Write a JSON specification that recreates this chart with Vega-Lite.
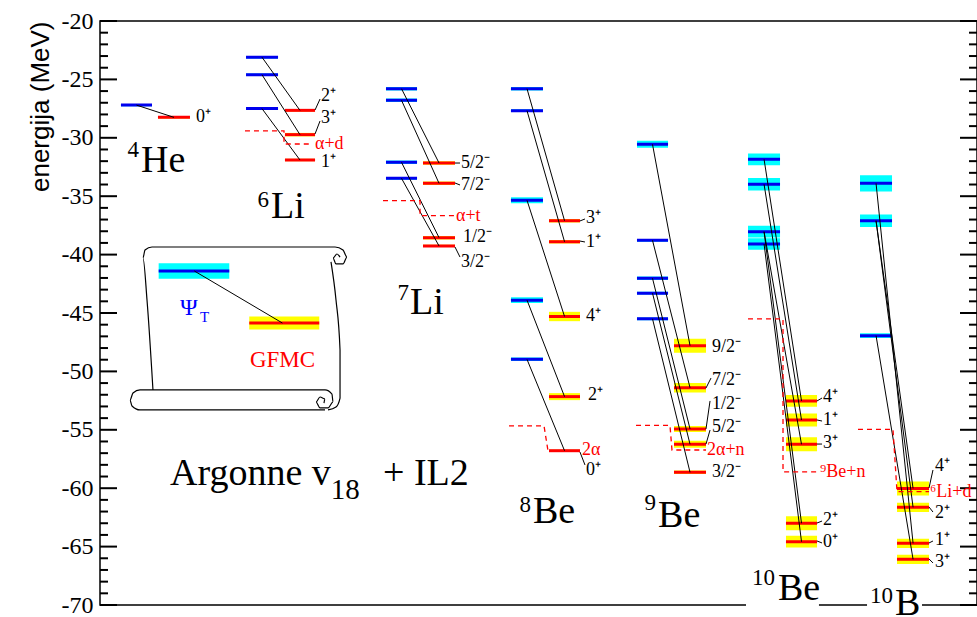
{
  "$schema": "https://vega.github.io/schema/vega-lite/v6.json",
  "width": 877,
  "height": 584,
  "autosize": "none",
  "padding": {"left": 100, "top": 21, "right": 0, "bottom": 12},
  "background": "white",
  "config": {"view": {"stroke": "black", "strokeWidth": 1.5}},
  "datasets": {
    "levels": [
      {"n": "4He", "k": "T", "x1": 2.39, "x2": 5.93, "e": -27.2, "err": 0.1},
      {"n": "4He", "k": "G", "x1": 6.61, "x2": 10.26, "e": -28.25, "err": 0.1},
      {"n": "6Li", "k": "T", "x1": 16.65, "x2": 20.3, "e": -23.1, "err": 0.1},
      {"n": "6Li", "k": "T", "x1": 16.65, "x2": 20.3, "e": -24.6, "err": 0.1},
      {"n": "6Li", "k": "T", "x1": 16.65, "x2": 20.3, "e": -27.5, "err": 0.1},
      {"n": "6Li", "k": "G", "x1": 21.09, "x2": 24.52, "e": -27.65, "err": 0.1},
      {"n": "6Li", "k": "G", "x1": 21.09, "x2": 24.52, "e": -29.73, "err": 0.15},
      {"n": "6Li", "k": "G", "x1": 21.09, "x2": 24.52, "e": -31.9, "err": 0.1},
      {"n": "7Li", "k": "T", "x1": 32.61, "x2": 36.15, "e": -25.8, "err": 0.15},
      {"n": "7Li", "k": "T", "x1": 32.61, "x2": 36.15, "e": -26.79, "err": 0.15},
      {"n": "7Li", "k": "T", "x1": 32.61, "x2": 36.15, "e": -32.1, "err": 0.15},
      {"n": "7Li", "k": "T", "x1": 32.61, "x2": 36.15, "e": -33.47, "err": 0.12},
      {"n": "7Li", "k": "G", "x1": 36.83, "x2": 40.48, "e": -32.16, "err": 0.15},
      {"n": "7Li", "k": "G", "x1": 36.83, "x2": 40.48, "e": -33.9, "err": 0.15},
      {"n": "7Li", "k": "G", "x1": 36.83, "x2": 40.48, "e": -38.55, "err": 0.15},
      {"n": "7Li", "k": "G", "x1": 36.83, "x2": 40.48, "e": -39.26, "err": 0.1},
      {"n": "8Be", "k": "T", "x1": 46.86, "x2": 50.51, "e": -25.8, "err": 0.15},
      {"n": "8Be", "k": "T", "x1": 46.86, "x2": 50.51, "e": -27.68, "err": 0.12},
      {"n": "8Be", "k": "T", "x1": 46.86, "x2": 50.51, "e": -35.35, "err": 0.25},
      {"n": "8Be", "k": "T", "x1": 46.86, "x2": 50.51, "e": -43.9, "err": 0.25},
      {"n": "8Be", "k": "T", "x1": 46.86, "x2": 50.51, "e": -48.97, "err": 0.15},
      {"n": "8Be", "k": "G", "x1": 51.2, "x2": 54.73, "e": -37.1, "err": 0.15},
      {"n": "8Be", "k": "G", "x1": 51.2, "x2": 54.73, "e": -38.9, "err": 0.15},
      {"n": "8Be", "k": "G", "x1": 51.2, "x2": 54.73, "e": -45.3, "err": 0.4},
      {"n": "8Be", "k": "G", "x1": 51.2, "x2": 54.73, "e": -52.16, "err": 0.3},
      {"n": "8Be", "k": "G", "x1": 51.2, "x2": 54.73, "e": -56.79, "err": 0.08},
      {"n": "9Be", "k": "T", "x1": 61.23, "x2": 64.77, "e": -30.56, "err": 0.3},
      {"n": "9Be", "k": "T", "x1": 61.23, "x2": 64.77, "e": -38.78, "err": 0.12},
      {"n": "9Be", "k": "T", "x1": 61.23, "x2": 64.77, "e": -42.03, "err": 0.15},
      {"n": "9Be", "k": "T", "x1": 61.23, "x2": 64.77, "e": -43.3, "err": 0.12},
      {"n": "9Be", "k": "T", "x1": 61.23, "x2": 64.77, "e": -45.5, "err": 0.12},
      {"n": "9Be", "k": "G", "x1": 65.45, "x2": 69.1, "e": -47.8, "err": 0.6},
      {"n": "9Be", "k": "G", "x1": 65.45, "x2": 69.1, "e": -51.4, "err": 0.4},
      {"n": "9Be", "k": "G", "x1": 65.45, "x2": 69.1, "e": -54.93, "err": 0.25},
      {"n": "9Be", "k": "G", "x1": 65.45, "x2": 69.1, "e": -56.24, "err": 0.3},
      {"n": "9Be", "k": "G", "x1": 65.45, "x2": 69.1, "e": -58.64, "err": 0.15},
      {"n": "10Be", "k": "T", "x1": 73.89, "x2": 77.54, "e": -31.84, "err": 0.5},
      {"n": "10Be", "k": "T", "x1": 73.89, "x2": 77.54, "e": -33.98, "err": 0.53},
      {"n": "10Be", "k": "T", "x1": 73.89, "x2": 77.54, "e": -38.04, "err": 0.5},
      {"n": "10Be", "k": "T", "x1": 73.89, "x2": 77.54, "e": -39.09, "err": 0.5},
      {"n": "10Be", "k": "G", "x1": 78.22, "x2": 81.76, "e": -52.53, "err": 0.5},
      {"n": "10Be", "k": "G", "x1": 78.22, "x2": 81.76, "e": -54.16, "err": 0.55},
      {"n": "10Be", "k": "G", "x1": 78.22, "x2": 81.76, "e": -56.24, "err": 0.6},
      {"n": "10Be", "k": "G", "x1": 78.22, "x2": 81.76, "e": -63.0, "err": 0.6},
      {"n": "10Be", "k": "G", "x1": 78.22, "x2": 81.76, "e": -64.58, "err": 0.5},
      {"n": "10B", "k": "T", "x1": 86.66, "x2": 90.31, "e": -33.9, "err": 0.7},
      {"n": "10B", "k": "T", "x1": 86.66, "x2": 90.31, "e": -37.1, "err": 0.53},
      {"n": "10B", "k": "T", "x1": 86.66, "x2": 90.31, "e": -46.94, "err": 0.2},
      {"n": "10B", "k": "G", "x1": 90.88, "x2": 94.53, "e": -60.02, "err": 0.6},
      {"n": "10B", "k": "G", "x1": 90.88, "x2": 94.53, "e": -61.64, "err": 0.4},
      {"n": "10B", "k": "G", "x1": 90.88, "x2": 94.53, "e": -64.72, "err": 0.4},
      {"n": "10B", "k": "G", "x1": 90.88, "x2": 94.53, "e": -66.09, "err": 0.4},
      {"n": "legend", "k": "T", "x1": 6.69, "x2": 14.74, "e": -41.4, "err": 0.67},
      {"n": "legend", "k": "G", "x1": 17.02, "x2": 25.0, "e": -45.86, "err": 0.55}
    ],
    "links": [
      {"x1": 4.16, "e1": -27.2, "x2": 8.44, "e2": -28.25},
      {"x1": 18.47, "e1": -23.1, "x2": 22.8, "e2": -27.65},
      {"x1": 18.47, "e1": -24.6, "x2": 22.8, "e2": -29.73},
      {"x1": 18.47, "e1": -27.5, "x2": 22.8, "e2": -31.9},
      {"x1": 34.38, "e1": -25.8, "x2": 38.66, "e2": -32.16},
      {"x1": 34.38, "e1": -26.79, "x2": 38.66, "e2": -33.9},
      {"x1": 34.38, "e1": -32.1, "x2": 38.66, "e2": -38.55},
      {"x1": 34.38, "e1": -33.47, "x2": 38.66, "e2": -39.26},
      {"x1": 48.69, "e1": -25.8, "x2": 52.97, "e2": -37.1},
      {"x1": 48.69, "e1": -27.68, "x2": 52.97, "e2": -38.9},
      {"x1": 48.69, "e1": -35.35, "x2": 52.97, "e2": -45.3},
      {"x1": 48.69, "e1": -43.9, "x2": 52.97, "e2": -52.16},
      {"x1": 48.69, "e1": -48.97, "x2": 52.97, "e2": -56.79},
      {"x1": 63.0, "e1": -30.56, "x2": 67.28, "e2": -47.8},
      {"x1": 63.0, "e1": -38.78, "x2": 67.28, "e2": -51.4},
      {"x1": 63.0, "e1": -42.03, "x2": 67.28, "e2": -54.93},
      {"x1": 63.0, "e1": -43.3, "x2": 67.28, "e2": -56.24},
      {"x1": 63.0, "e1": -45.5, "x2": 67.28, "e2": -58.64},
      {"x1": 75.72, "e1": -31.84, "x2": 79.99, "e2": -52.53},
      {"x1": 75.72, "e1": -33.98, "x2": 79.99, "e2": -54.16},
      {"x1": 75.72, "e1": -38.04, "x2": 79.99, "e2": -56.24},
      {"x1": 75.72, "e1": -38.04, "x2": 79.99, "e2": -63.0},
      {"x1": 75.72, "e1": -39.09, "x2": 79.99, "e2": -64.58},
      {"x1": 88.49, "e1": -33.9, "x2": 92.71, "e2": -64.72},
      {"x1": 88.49, "e1": -37.1, "x2": 92.71, "e2": -60.02},
      {"x1": 88.49, "e1": -37.1, "x2": 92.71, "e2": -61.64},
      {"x1": 88.49, "e1": -46.94, "x2": 92.71, "e2": -66.09},
      {"x1": 10.75, "e1": -41.4, "x2": 20.8, "e2": -45.86}
    ],
    "leaders": [
      {"x1": 24.52, "e1": -27.62, "x2": 25.09, "e2": -26.68},
      {"x1": 24.52, "e1": -29.67, "x2": 25.09, "e2": -28.56},
      {"x1": 40.48, "e1": -32.16, "x2": 41.05, "e2": -32.16},
      {"x1": 40.48, "e1": -33.87, "x2": 41.05, "e2": -34.04},
      {"x1": 40.48, "e1": -39.35, "x2": 41.05, "e2": -40.21},
      {"x1": 54.73, "e1": -37.12, "x2": 55.3, "e2": -36.95},
      {"x1": 54.73, "e1": -38.84, "x2": 55.3, "e2": -38.92},
      {"x1": 54.73, "e1": -56.9, "x2": 55.3, "e2": -58.01},
      {"x1": 69.1, "e1": -51.42, "x2": 69.67, "e2": -50.57},
      {"x1": 69.1, "e1": -54.93, "x2": 69.56, "e2": -52.53},
      {"x1": 69.1, "e1": -56.22, "x2": 69.56, "e2": -55.02},
      {"x1": 81.76, "e1": -52.53, "x2": 82.33, "e2": -52.28},
      {"x1": 81.76, "e1": -54.16, "x2": 82.33, "e2": -54.25},
      {"x1": 81.76, "e1": -56.22, "x2": 82.33, "e2": -56.22},
      {"x1": 81.76, "e1": -62.98, "x2": 82.33, "e2": -62.81},
      {"x1": 81.76, "e1": -64.52, "x2": 82.33, "e2": -64.69},
      {"x1": 94.53, "e1": -59.98, "x2": 94.98, "e2": -58.44},
      {"x1": 94.53, "e1": -61.61, "x2": 94.98, "e2": -62.04},
      {"x1": 94.53, "e1": -64.69, "x2": 94.98, "e2": -64.52},
      {"x1": 94.53, "e1": -66.06, "x2": 94.98, "e2": -66.4}
    ],
    "thr": [
      {"id": "ad", "o": 1, "x": 16.53, "e": -29.4},
      {"id": "ad", "o": 2, "x": 20.98, "e": -29.4},
      {"id": "ad", "o": 3, "x": 20.98, "e": -30.53},
      {"id": "ad", "o": 4, "x": 24.17, "e": -30.53},
      {"id": "at", "o": 1, "x": 32.27, "e": -35.38},
      {"id": "at", "o": 2, "x": 36.49, "e": -35.38},
      {"id": "at", "o": 3, "x": 36.49, "e": -36.67},
      {"id": "at", "o": 4, "x": 40.48, "e": -36.67},
      {"id": "aa", "o": 1, "x": 46.64, "e": -54.67},
      {"id": "aa", "o": 2, "x": 50.63, "e": -54.67},
      {"id": "aa", "o": 3, "x": 51.08, "e": -56.79},
      {"id": "aan", "o": 1, "x": 61.12, "e": -54.62},
      {"id": "aan", "o": 2, "x": 64.99, "e": -54.62},
      {"id": "aan", "o": 3, "x": 65.22, "e": -56.73},
      {"id": "aan", "o": 4, "x": 69.1, "e": -56.73},
      {"id": "ben", "o": 1, "x": 73.89, "e": -45.51},
      {"id": "ben", "o": 2, "x": 77.88, "e": -45.51},
      {"id": "ben", "o": 3, "x": 77.88, "e": -58.6},
      {"id": "ben", "o": 4, "x": 81.76, "e": -58.6},
      {"id": "lid", "o": 1, "x": 86.43, "e": -54.96},
      {"id": "lid", "o": 2, "x": 90.42, "e": -54.96},
      {"id": "lid", "o": 3, "x": 90.88, "e": -60.3},
      {"id": "lid", "o": 4, "x": 94.53, "e": -60.3}
    ],
    "scroll": [
      {"id": "sheet", "o": 1, "x": 6.04, "e": -51.59},
      {"id": "sheet", "o": 2, "x": 5.36, "e": -43.89},
      {"id": "sheet", "o": 3, "x": 4.9, "e": -40.29},
      {"id": "sheet", "o": 4, "x": 5.13, "e": -39.61},
      {"id": "sheet", "o": 5, "x": 5.93, "e": -39.35},
      {"id": "sheet", "o": 6, "x": 26.8, "e": -39.35},
      {"id": "sheet", "o": 7, "x": 27.71, "e": -39.61},
      {"id": "sheet", "o": 8, "x": 28.16, "e": -40.21},
      {"id": "sheet", "o": 9, "x": 27.71, "e": -40.8},
      {"id": "sheet", "o": 10, "x": 26.91, "e": -40.8},
      {"id": "sheet", "o": 11, "x": 26.57, "e": -40.29},
      {"id": "sheet", "o": 12, "x": 27.02, "e": -39.95},
      {"id": "sheet", "o": 13, "x": 27.37, "e": -40.21},
      {"id": "right", "o": 1, "x": 26.34, "e": -40.63},
      {"id": "right", "o": 2, "x": 26.91, "e": -43.89},
      {"id": "right", "o": 3, "x": 27.37, "e": -48.17},
      {"id": "right", "o": 4, "x": 27.37, "e": -52.28},
      {"id": "right", "o": 5, "x": 26.91, "e": -53.05},
      {"id": "right", "o": 6, "x": 26.0, "e": -53.3},
      {"id": "roll", "o": 1, "x": 25.66, "e": -53.3},
      {"id": "roll", "o": 2, "x": 4.56, "e": -53.3},
      {"id": "roll", "o": 3, "x": 3.65, "e": -52.96},
      {"id": "roll", "o": 4, "x": 3.42, "e": -52.45},
      {"id": "roll", "o": 5, "x": 3.76, "e": -51.85},
      {"id": "roll", "o": 6, "x": 4.56, "e": -51.59},
      {"id": "roll", "o": 7, "x": 25.66, "e": -51.59},
      {"id": "roll", "o": 8, "x": 26.45, "e": -51.94},
      {"id": "roll", "o": 9, "x": 26.57, "e": -52.62},
      {"id": "roll", "o": 10, "x": 26.0, "e": -53.13},
      {"id": "roll", "o": 11, "x": 25.09, "e": -53.13},
      {"id": "roll", "o": 12, "x": 24.63, "e": -52.62},
      {"id": "roll", "o": 13, "x": 25.09, "e": -52.19},
      {"id": "roll", "o": 14, "x": 25.66, "e": -52.36},
      {"id": "roll", "o": 15, "x": 25.54, "e": -52.71}
    ],
    "gaps": [
      {"x1": 73.66, "x2": 81.98, "e1": -70.4, "e2": -69.6},
      {"x1": 87.46, "x2": 93.73, "e1": -70.4, "e2": -69.6}
    ],
    "majorTicks": [
      {"v": -70}, {"v": -65}, {"v": -60}, {"v": -55}, {"v": -50}, {"v": -45}, {"v": -40}, {"v": -35}, {"v": -30}, {"v": -25}, {"v": -20}
    ],
    "minorTicks": [
      {"v": -69}, {"v": -68}, {"v": -67}, {"v": -66}, {"v": -64}, {"v": -63}, {"v": -62}, {"v": -61},
      {"v": -59}, {"v": -58}, {"v": -57}, {"v": -56}, {"v": -54}, {"v": -53}, {"v": -52}, {"v": -51},
      {"v": -49}, {"v": -48}, {"v": -47}, {"v": -46}, {"v": -44}, {"v": -43}, {"v": -42}, {"v": -41},
      {"v": -39}, {"v": -38}, {"v": -37}, {"v": -36}, {"v": -34}, {"v": -33}, {"v": -32}, {"v": -31},
      {"v": -29}, {"v": -28}, {"v": -27}, {"v": -26}, {"v": -24}, {"v": -23}, {"v": -22}, {"v": -21}
    ],
    "texts": [
      {"role": "st", "x": 10.95, "e": -28.25, "t": "0⁺"},
      {"role": "st", "x": 25.2, "e": -26.4, "t": "2⁺"},
      {"role": "st", "x": 25.2, "e": -28.3, "t": "3⁺"},
      {"role": "st", "x": 25.2, "e": -32.1, "t": "1⁺"},
      {"role": "st", "x": 41.16, "e": -32.16, "t": "5/2⁻"},
      {"role": "st", "x": 41.16, "e": -34.04, "t": "7/2⁻"},
      {"role": "st", "x": 41.39, "e": -38.5, "t": "1/2⁻"},
      {"role": "st", "x": 41.16, "e": -40.63, "t": "3/2⁻"},
      {"role": "st", "x": 55.42, "e": -36.87, "t": "3⁺"},
      {"role": "st", "x": 55.42, "e": -38.92, "t": "1⁺"},
      {"role": "st", "x": 55.42, "e": -45.26, "t": "4⁺"},
      {"role": "st", "x": 55.64, "e": -52.02, "t": "2⁺"},
      {"role": "st", "x": 55.42, "e": -58.44, "t": "0⁺"},
      {"role": "st", "x": 69.78, "e": -47.91, "t": "9/2⁻"},
      {"role": "st", "x": 69.78, "e": -50.74, "t": "7/2⁻"},
      {"role": "st", "x": 69.78, "e": -52.79, "t": "1/2⁻"},
      {"role": "st", "x": 69.78, "e": -54.76, "t": "5/2⁻"},
      {"role": "st", "x": 69.78, "e": -58.61, "t": "3/2⁻"},
      {"role": "st", "x": 82.44, "e": -52.19, "t": "4⁺"},
      {"role": "st", "x": 82.44, "e": -54.16, "t": "1⁺"},
      {"role": "st", "x": 82.44, "e": -56.13, "t": "3⁺"},
      {"role": "st", "x": 82.44, "e": -62.72, "t": "2⁺"},
      {"role": "st", "x": 82.44, "e": -64.6, "t": "0⁺"},
      {"role": "st", "x": 95.21, "e": -58.1, "t": "4⁺"},
      {"role": "st", "x": 95.21, "e": -62.12, "t": "2⁺"},
      {"role": "st", "x": 95.21, "e": -64.43, "t": "1⁺"},
      {"role": "st", "x": 95.21, "e": -66.32, "t": "3⁺"},
      {"role": "th", "x": 24.52, "e": -30.53, "t": "α+d"},
      {"role": "th", "x": 40.59, "e": -36.7, "t": "α+t"},
      {"role": "th", "x": 54.96, "e": -56.73, "t": "2α"},
      {"role": "th", "x": 69.21, "e": -56.73, "t": "2α+n"},
      {"role": "th", "x": 82.1, "e": -58.6, "t": "⁹Be+n"},
      {"role": "th", "x": 94.64, "e": -60.3, "t": "⁶Li+d"},
      {"role": "ms", "x": 4.45, "e": -31.64, "t": "4"},
      {"role": "nm", "x": 4.67, "e": -32.9, "t": "He"},
      {"role": "ms", "x": 19.27, "e": -35.92, "t": "6"},
      {"role": "nm", "x": 19.5, "e": -36.89, "t": "Li"},
      {"role": "ms", "x": 35.23, "e": -43.89, "t": "7"},
      {"role": "nm", "x": 35.35, "e": -45.09, "t": "Li"},
      {"role": "ms", "x": 49.14, "e": -62.04, "t": "8"},
      {"role": "nm", "x": 49.37, "e": -63.0, "t": "Be"},
      {"role": "ms", "x": 63.4, "e": -61.87, "t": "9"},
      {"role": "nm", "x": 63.63, "e": -63.3, "t": "Be"},
      {"role": "ms", "x": 76.97, "e": -68.29, "t": "10"},
      {"role": "nm", "x": 77.31, "e": -69.57, "t": "Be"},
      {"role": "ms", "x": 90.42, "e": -69.83, "t": "10"},
      {"role": "nm", "x": 90.65, "e": -70.85, "t": "B"},
      {"role": "big", "x": 7.98, "e": -59.73, "t": "Argonne v"},
      {"role": "big", "x": 32.27, "e": -59.73, "t": "+ IL2"},
      {"role": "sub", "x": 26.3, "e": -60.9, "t": "18"},
      {"role": "psi", "x": 9.12, "e": -45.17, "t": "Ψ"},
      {"role": "tsub", "x": 11.4, "e": -45.77, "t": "T"},
      {"role": "gfmc", "x": 17.1, "e": -49.62, "t": "GFMC"}
    ]
  },
  "resolve": {"scale": {"color": "independent"}},
  "layer": [
    {
      "data": {"name": "majorTicks"},
      "mark": {"type": "rule", "color": "black", "strokeWidth": 2},
      "encoding": {
        "x": {"datum": 0, "type": "quantitative", "scale": {"domain": [0, 100], "nice": false, "zero": false}, "axis": null},
        "x2": {"datum": 1.94},
        "y": {"field": "v", "type": "quantitative", "scale": {"domain": [-70, -20], "nice": false, "zero": false},
          "axis": {"orient": "left", "values": [-70, -65, -60, -55, -50, -45, -40, -35, -30, -25, -20], "ticks": false, "domain": false, "grid": false, "labelPadding": 7, "labelFont": "Liberation Serif", "labelFontSize": 24, "labelColor": "black", "labelExpr": "toString(datum.value)", "labelBaseline": "middle", "title": "energija (MeV)", "titleFont": "Liberation Sans", "titleFontSize": 26, "titleFontWeight": "normal", "titleColor": "black", "titleAnchor": "end", "titlePadding": 8}}
      }
    },
    {
      "data": {"name": "majorTicks"},
      "mark": {"type": "rule", "color": "black", "strokeWidth": 2},
      "encoding": {"x": {"datum": 98.06, "type": "quantitative"}, "x2": {"datum": 100}, "y": {"field": "v", "type": "quantitative"}}
    },
    {
      "data": {"name": "minorTicks"},
      "mark": {"type": "rule", "color": "black", "strokeWidth": 2},
      "encoding": {"x": {"datum": 0, "type": "quantitative"}, "x2": {"datum": 0.91}, "y": {"field": "v", "type": "quantitative"}}
    },
    {
      "data": {"name": "minorTicks"},
      "mark": {"type": "rule", "color": "black", "strokeWidth": 2},
      "encoding": {"x": {"datum": 99.09, "type": "quantitative"}, "x2": {"datum": 100}, "y": {"field": "v", "type": "quantitative"}}
    },
    {
      "data": {"name": "levels"},
      "mark": {"type": "rect", "stroke": null},
      "transform": [{"calculate": "datum.e - datum.err", "as": "lo"}, {"calculate": "datum.e + datum.err", "as": "hi"}],
      "encoding": {
        "x": {"field": "x1", "type": "quantitative"},
        "x2": {"field": "x2"},
        "y": {"field": "lo", "type": "quantitative"},
        "y2": {"field": "hi"},
        "color": {"field": "k", "type": "nominal", "scale": {"domain": ["T", "G"], "range": ["#00ffff", "#ffff00"]}, "legend": null}
      }
    },
    {
      "data": {"name": "levels"},
      "mark": {"type": "rule", "strokeWidth": 3},
      "encoding": {
        "x": {"field": "x1", "type": "quantitative"},
        "x2": {"field": "x2"},
        "y": {"field": "e", "type": "quantitative"},
        "color": {"field": "k", "type": "nominal", "scale": {"domain": ["T", "G"], "range": ["#0000ee", "#ff0000"]}, "legend": null}
      }
    },
    {
      "data": {"name": "gaps"},
      "mark": {"type": "rect", "color": "white", "clip": false},
      "encoding": {
        "x": {"field": "x1", "type": "quantitative"},
        "x2": {"field": "x2"},
        "y": {"field": "e1", "type": "quantitative"},
        "y2": {"field": "e2"}
      }
    },
    {
      "data": {"name": "links"},
      "mark": {"type": "rule", "color": "black", "strokeWidth": 1},
      "encoding": {
        "x": {"field": "x1", "type": "quantitative"},
        "x2": {"field": "x2"},
        "y": {"field": "e1", "type": "quantitative"},
        "y2": {"field": "e2"}
      }
    },
    {
      "data": {"name": "leaders"},
      "mark": {"type": "rule", "color": "black", "strokeWidth": 1},
      "encoding": {
        "x": {"field": "x1", "type": "quantitative"},
        "x2": {"field": "x2"},
        "y": {"field": "e1", "type": "quantitative"},
        "y2": {"field": "e2"}
      }
    },
    {
      "data": {"name": "thr"},
      "mark": {"type": "line", "color": "#ff0000", "strokeWidth": 1.3, "strokeDash": [5, 4]},
      "encoding": {
        "x": {"field": "x", "type": "quantitative"},
        "y": {"field": "e", "type": "quantitative"},
        "detail": {"field": "id"},
        "order": {"field": "o"}
      }
    },
    {
      "data": {"name": "scroll"},
      "mark": {"type": "line", "color": "black", "strokeWidth": 1.2, "interpolate": "monotone"},
      "encoding": {
        "x": {"field": "x", "type": "quantitative"},
        "y": {"field": "e", "type": "quantitative"},
        "detail": {"field": "id"},
        "order": {"field": "o"}
      }
    },
    {
      "data": {"name": "texts"},
      "transform": [{"filter": "datum.role === 'st'"}],
      "mark": {"type": "text", "align": "left", "baseline": "middle", "font": "Liberation Serif", "fontSize": 18, "color": "black"},
      "encoding": {"x": {"field": "x", "type": "quantitative"}, "y": {"field": "e", "type": "quantitative"}, "text": {"field": "t"}}
    },
    {
      "data": {"name": "texts"},
      "transform": [{"filter": "datum.role === 'th'"}],
      "mark": {"type": "text", "align": "left", "baseline": "middle", "font": "Liberation Serif", "fontSize": 18, "color": "#ff0000"},
      "encoding": {"x": {"field": "x", "type": "quantitative"}, "y": {"field": "e", "type": "quantitative"}, "text": {"field": "t"}}
    },
    {
      "data": {"name": "texts"},
      "transform": [{"filter": "datum.role === 'nm' || datum.role === 'big'"}],
      "mark": {"type": "text", "align": "left", "baseline": "alphabetic", "font": "Liberation Serif", "fontSize": 38, "color": "black"},
      "encoding": {"x": {"field": "x", "type": "quantitative"}, "y": {"field": "e", "type": "quantitative"}, "text": {"field": "t"}}
    },
    {
      "data": {"name": "texts"},
      "transform": [{"filter": "datum.role === 'ms'"}],
      "mark": {"type": "text", "align": "right", "baseline": "alphabetic", "font": "Liberation Serif", "fontSize": 23, "color": "black"},
      "encoding": {"x": {"field": "x", "type": "quantitative"}, "y": {"field": "e", "type": "quantitative"}, "text": {"field": "t"}}
    },
    {
      "data": {"name": "texts"},
      "transform": [{"filter": "datum.role === 'sub'"}],
      "mark": {"type": "text", "align": "left", "baseline": "alphabetic", "font": "Liberation Serif", "fontSize": 29, "color": "black"},
      "encoding": {"x": {"field": "x", "type": "quantitative"}, "y": {"field": "e", "type": "quantitative"}, "text": {"field": "t"}}
    },
    {
      "data": {"name": "texts"},
      "transform": [{"filter": "datum.role === 'psi'"}],
      "mark": {"type": "text", "align": "left", "baseline": "alphabetic", "font": "Liberation Serif", "fontSize": 24, "color": "#0000ff"},
      "encoding": {"x": {"field": "x", "type": "quantitative"}, "y": {"field": "e", "type": "quantitative"}, "text": {"field": "t"}}
    },
    {
      "data": {"name": "texts"},
      "transform": [{"filter": "datum.role === 'tsub'"}],
      "mark": {"type": "text", "align": "left", "baseline": "alphabetic", "font": "Liberation Serif", "fontSize": 15, "color": "#0000ff"},
      "encoding": {"x": {"field": "x", "type": "quantitative"}, "y": {"field": "e", "type": "quantitative"}, "text": {"field": "t"}}
    },
    {
      "data": {"name": "texts"},
      "transform": [{"filter": "datum.role === 'gfmc'"}],
      "mark": {"type": "text", "align": "left", "baseline": "alphabetic", "font": "Liberation Serif", "fontSize": 23, "color": "#ff0000"},
      "encoding": {"x": {"field": "x", "type": "quantitative"}, "y": {"field": "e", "type": "quantitative"}, "text": {"field": "t"}}
    }
  ]
}
